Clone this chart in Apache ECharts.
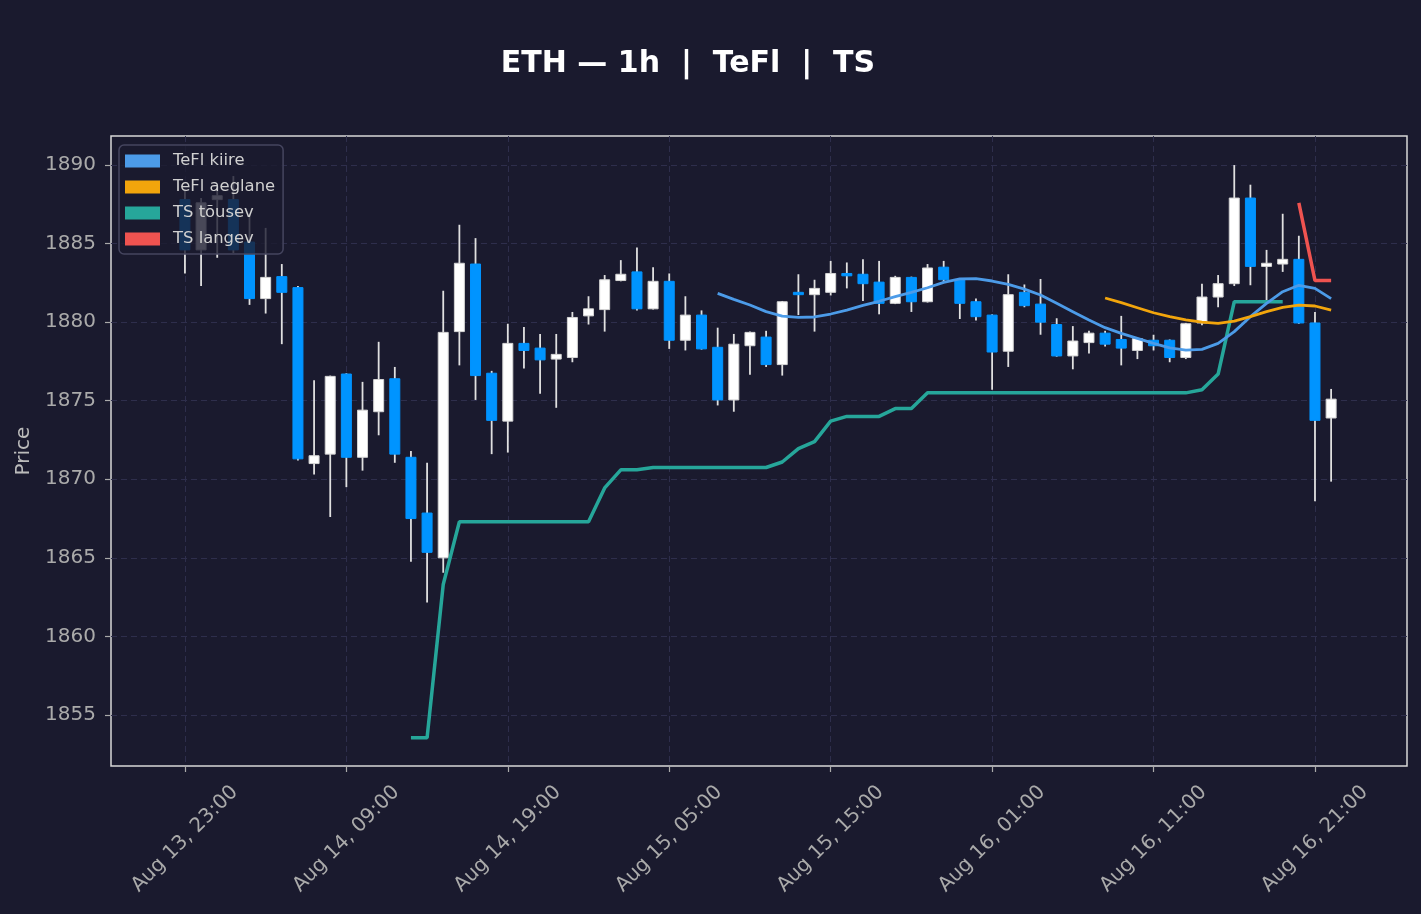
<!DOCTYPE html>
<html>
<head>
<meta charset="utf-8">
<title>ETH 1h TeFl TS</title>
<script src="https://cdn.jsdelivr.net/npm/echarts@6/dist/echarts.min.js"></script>
<style>
  html, body { margin: 0; padding: 0; background: #1a1a2e; }
  #chart { width: 1421px; height: 914px; }
</style>
</head>
<body>
<div id="chart"></div>
<script>
// tunnid (küünla indeks) ja x-telje sildid
var tickPos = [0, 10, 20, 30, 40, 50, 60, 70];
var tickLabels = ['Aug 13, 23:00', 'Aug 14, 09:00', 'Aug 14, 19:00', 'Aug 15, 05:00',
                  'Aug 15, 15:00', 'Aug 16, 01:00', 'Aug 16, 11:00', 'Aug 16, 21:00'];
var priceTicks = [1855, 1860, 1865, 1870, 1875, 1880, 1885, 1890];

// küünlad: open, close, low, high
var open = [1887.8, 1884.6, 1887.8, 1887.8, 1885.1, 1881.5, 1882.9, 1882.2, 1871.0, 1871.6,
            1876.7, 1871.4, 1874.3, 1876.4, 1871.4, 1867.85, 1865.0, 1879.4, 1883.7, 1876.75,
            1873.7, 1878.65, 1878.35, 1877.65, 1877.75, 1880.4, 1880.8, 1882.65, 1883.2, 1880.85,
            1882.6, 1878.85, 1880.45, 1878.4, 1875.05, 1878.5, 1879.05, 1877.3, 1881.9, 1881.75,
            1881.9, 1883.1, 1883.05, 1882.55, 1881.2, 1882.85, 1881.3, 1883.5, 1882.7, 1881.3,
            1880.45, 1878.15, 1881.9, 1881.15, 1879.85, 1877.85, 1878.7, 1879.3, 1878.9, 1878.2,
            1878.85, 1878.85, 1877.75, 1879.95, 1881.6, 1882.45, 1887.9, 1883.55, 1883.7, 1884.0,
            1879.95, 1873.9];
var close = [1884.6, 1887.6, 1888.05, 1884.6, 1881.5, 1882.85, 1881.9, 1871.3, 1871.5, 1876.55,
             1871.4, 1874.4, 1876.35, 1871.6, 1867.5, 1865.35, 1879.35, 1883.75, 1876.6, 1873.75,
             1878.65, 1878.2, 1877.6, 1877.95, 1880.3, 1880.85, 1882.7, 1883.05, 1880.85, 1882.6,
             1878.85, 1880.45, 1878.3, 1875.05, 1878.6, 1879.35, 1877.3, 1881.3, 1881.75, 1882.15,
             1883.1, 1882.95, 1882.45, 1881.2, 1882.85, 1881.3, 1883.45, 1882.7, 1881.2, 1880.35,
             1878.1, 1881.75, 1881.05, 1880.0, 1877.85, 1878.8, 1879.3, 1878.6, 1878.35, 1878.95,
             1878.5, 1877.75, 1879.9, 1881.6, 1882.45, 1887.9, 1883.55, 1883.75, 1884.0, 1879.95,
             1873.75, 1875.1];
var low = [1883.1, 1882.3, 1884.1, 1884.4, 1881.1, 1880.55, 1878.6, 1871.2, 1870.3, 1867.6,
           1869.5, 1870.55, 1872.8, 1871.05, 1864.75, 1862.15, 1864.05, 1877.25, 1875.05, 1871.6,
           1871.7, 1877.05, 1875.45, 1874.55, 1877.45, 1879.85, 1879.4, 1882.6, 1880.75, 1880.8,
           1878.3, 1878.2, 1878.25, 1874.7, 1874.3, 1876.65, 1877.15, 1876.6, 1880.45, 1879.4,
           1881.7, 1882.15, 1881.35, 1880.5, 1881.15, 1880.65, 1881.25, 1882.5, 1880.2, 1880.1,
           1875.7, 1877.15, 1880.95, 1879.2, 1877.8, 1877.0, 1878.0, 1878.45, 1877.25, 1877.65,
           1878.2, 1877.45, 1877.65, 1879.8, 1880.95, 1882.3, 1882.35, 1881.3, 1883.2, 1879.9,
           1868.6, 1869.85];
var high = [1888.4, 1887.9, 1888.4, 1889.3, 1886.8, 1886.0, 1883.7, 1882.3, 1876.3, 1876.6,
            1876.75, 1876.2, 1878.75, 1877.15, 1871.8, 1871.05, 1882.0, 1886.2, 1885.35, 1876.9,
            1879.9, 1879.7, 1879.25, 1879.25, 1880.65, 1881.65, 1883.0, 1883.95, 1884.75, 1883.5,
            1883.1, 1881.65, 1880.75, 1879.65, 1879.25, 1879.4, 1879.45, 1881.35, 1883.05, 1882.7,
            1883.9, 1883.8, 1884.0, 1883.9, 1882.95, 1882.9, 1883.7, 1883.9, 1882.75, 1881.5,
            1880.5, 1883.05, 1882.4, 1882.75, 1880.25, 1879.75, 1879.45, 1879.45, 1880.4, 1879.0,
            1879.2, 1878.9, 1879.95, 1882.45, 1883.0, 1890.0, 1888.75, 1884.6, 1886.9, 1885.5,
            1880.65, 1875.75];

// indikaatorid (null = puudub)
var teflFast = [null, null, null, null, null, null, null, null, null, null,
                null, null, null, null, null, null, null, null, null, null,
                null, null, null, null, null, null, null, null, null, null,
                null, null, null, 1881.83, 1881.45, 1881.09, 1880.67, 1880.39, 1880.3, 1880.33,
                1880.52, 1880.77, 1881.07, 1881.33, 1881.62, 1881.9, 1882.19, 1882.53, 1882.75, 1882.77,
                1882.62, 1882.4, 1882.1, 1881.73, 1881.2, 1880.67, 1880.14, 1879.65, 1879.29, 1878.97,
                1878.65, 1878.37, 1878.22, 1878.27, 1878.65, 1879.4, 1880.35, 1881.2, 1881.94, 1882.35,
                1882.15, 1881.5];
var teflSlow = [null, null, null, null, null, null, null, null, null, null,
                null, null, null, null, null, null, null, null, null, null,
                null, null, null, null, null, null, null, null, null, null,
                null, null, null, null, null, null, null, null, null, null,
                null, null, null, null, null, null, null, null, null, null,
                null, null, null, null, null, null, null, 1881.54, 1881.24, 1880.92,
                1880.6, 1880.35, 1880.14, 1880.0, 1879.93, 1880.07, 1880.35, 1880.67, 1880.94, 1881.09,
                1881.03, 1880.77];
var tsUp = [null, null, null, null, null, null, null, null, null, null,
            null, null, null, null, 1853.55, 1853.55, 1863.3, 1867.3, 1867.3, 1867.3,
            1867.3, 1867.3, 1867.3, 1867.3, 1867.3, 1867.3, 1869.45, 1870.6, 1870.6, 1870.75,
            1870.75, 1870.75, 1870.75, 1870.75, 1870.75, 1870.75, 1870.75, 1871.1, 1871.95, 1872.4,
            1873.7, 1874.0, 1874.0, 1874.0, 1874.5, 1874.5, 1875.5, 1875.5, 1875.5, 1875.5,
            1875.5, 1875.5, 1875.5, 1875.5, 1875.5, 1875.5, 1875.5, 1875.5, 1875.5, 1875.5,
            1875.5, 1875.5, 1875.5, 1875.7, 1876.7, 1881.3, 1881.3, 1881.3, 1881.3, null,
            null, null];
var tsDown = [null, null, null, null, null, null, null, null, null, null,
              null, null, null, null, null, null, null, null, null, null,
              null, null, null, null, null, null, null, null, null, null,
              null, null, null, null, null, null, null, null, null, null,
              null, null, null, null, null, null, null, null, null, null,
              null, null, null, null, null, null, null, null, null, null,
              null, null, null, null, null, null, null, null, null, 1887.6,
              1882.65, 1882.65];

var FONT = 'DejaVu Sans';
var UP = '#ffffff', DOWN = '#0094ff', WICK = '#e0e0e0';

function pairs(arr) {
    var out = [];
    arr.forEach(function (v, i) { if (v !== null) out.push([i, v]); });
    return out;
}

var candles = open.map(function (o, i) { return [i, o, close[i], low[i], high[i]]; });

var chart = echarts.init(document.getElementById('chart'));

var option = {
    backgroundColor: '#1a1a2e',
    animation: false,
    title: {
        text: 'ETH \u2014 1h  |  TeFl  |  TS',
        left: 683,
        top: 44,
        textAlign: 'center',
        textStyle: { color: '#ffffff', fontSize: 30, fontWeight: 'bold', fontFamily: FONT }
    },
    legend: {
        data: ['TeFl kiire', 'TeFl aeglane', 'TS tõusev', 'TS langev'],
        orient: 'vertical',
        left: 119,
        top: 145,
        icon: 'rect',
        itemWidth: 35,
        itemHeight: 13,
        itemGap: 10,
        padding: [8, 8, 7, 6],
        backgroundColor: 'rgba(26,26,46,0.8)',
        borderColor: '#45455f',
        borderWidth: 1.5,
        borderRadius: 5,
        textStyle: { color: '#d0d0d0', fontSize: 16.4, fontFamily: FONT, padding: [0, 0, 0, 8] }
    },
    grid: {
        left: 111, right: 14, top: 136, bottom: 148,
        outerBoundsMode: 'none',
        containLabel: false,
        show: true,
        borderColor: '#d8d8d8',
        borderWidth: 1.5,
        backgroundColor: 'transparent'
    },
    xAxis: {
        type: 'value',
        min: -4.58,
        max: 75.7,
        splitNumber: 8,
        axisLine: { show: false, onZero: false },
        axisTick: { show: true, length: 6, customValues: tickPos, lineStyle: { color: '#aaaaaa', width: 1.2 } },
        axisLabel: {
            customValues: tickPos,
            rotate: 45,
            align: 'center',
            verticalAlign: 'middle',
            margin: 73,
            color: '#aaaaaa',
            fontSize: 20,
            fontFamily: FONT,
            formatter: function (v) {
                var k = tickPos.indexOf(Math.round(v));
                return k >= 0 ? tickLabels[k] : '';
            }
        },
        splitLine: { show: true, lineStyle: { color: '#2e2e4c', type: [6, 4], width: 1 } }
    },
    yAxis: {
        type: 'value',
        min: 1851.75,
        max: 1891.85,
        splitNumber: 8,
        name: 'Price',
        nameLocation: 'middle',
        nameGap: 73,
        nameTextStyle: { color: '#bbbbbb', fontSize: 20, fontFamily: FONT },
        axisLine: { show: false, onZero: false },
        axisTick: { show: true, length: 6, customValues: priceTicks, lineStyle: { color: '#aaaaaa', width: 1.2 } },
        axisLabel: {
            customValues: priceTicks,
            margin: 15,
            color: '#aaaaaa',
            fontSize: 20,
            fontFamily: FONT,
            formatter: function (v) { return String(Math.round(v)); }
        },
        splitLine: { show: true, lineStyle: { color: '#2e2e4c', type: [6, 4], width: 1 } }
    },
    series: [{
        name: 'OHLC',
        type: 'custom',
        data: candles,
        encode: { x: 0, y: [1, 2, 3, 4] },
        z: 2,
        renderItem: function (params, api) {
            var x = api.value(0);
            var o = api.value(1), c = api.value(2);
            var pO = api.coord([x, o]), pC = api.coord([x, c]);
            var pL = api.coord([x, api.value(3)]), pH = api.coord([x, api.value(4)]);
            var w = 10;
            var up = c >= o;
            var top = Math.min(pO[1], pC[1]), bot = Math.max(pO[1], pC[1]);
            return {
                type: 'group',
                children: [{
                    type: 'line',
                    shape: { x1: pO[0], y1: pH[1], x2: pO[0], y2: pL[1] },
                    style: { stroke: WICK, lineWidth: 1.8 }
                }, {
                    type: 'rect',
                    shape: { x: pO[0] - w / 2, y: top, width: w, height: Math.max(bot - top, 1.5) },
                    style: { fill: up ? UP : DOWN, stroke: up ? '#d4d4d4' : DOWN, lineWidth: 1 }
                }]
            };
        }
    }, {
        name: 'TeFl kiire',
        type: 'line',
        data: pairs(teflFast),
        symbol: 'none',
        z: 4,
        color: '#4c9be8',
        lineStyle: { color: '#4c9be8', width: 2.8 }
    }, {
        name: 'TeFl aeglane',
        type: 'line',
        data: pairs(teflSlow),
        symbol: 'none',
        z: 4,
        color: '#f2a50c',
        lineStyle: { color: '#f2a50c', width: 2.8 }
    }, {
        name: 'TS tõusev',
        type: 'line',
        data: pairs(tsUp),
        symbol: 'none',
        z: 3,
        color: '#26a69a',
        lineStyle: { color: '#26a69a', width: 3.5 }
    }, {
        name: 'TS langev',
        type: 'line',
        data: pairs(tsDown),
        symbol: 'none',
        z: 3,
        color: '#ef5350',
        lineStyle: { color: '#ef5350', width: 3.5 }
    }]
};

chart.setOption(option);
</script>
</body>
</html>
